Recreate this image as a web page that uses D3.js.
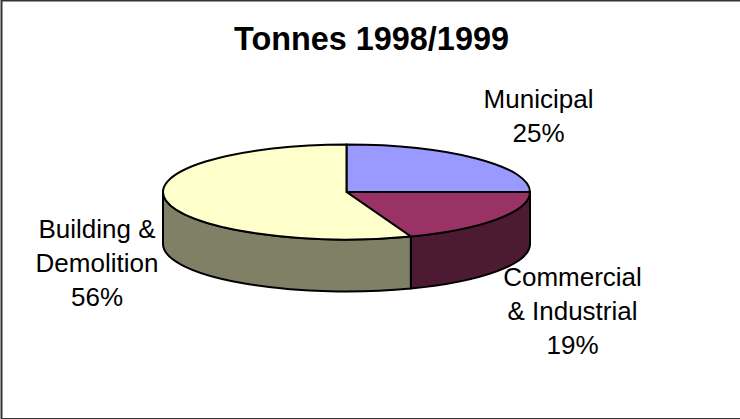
<!DOCTYPE html>
<html><head><meta charset="utf-8">
<script src="https://cdn.jsdelivr.net/npm/d3@7"></script>
<style>html,body{margin:0;padding:0;background:#fff}svg{display:block}text{font-family:"Liberation Sans",Arial,sans-serif;fill:#000}</style>
</head><body><svg id="c" width="740" height="419"></svg>
<script>
const chartTitle = "Tonnes 1998/1999";
const categories = ["Municipal", "Commercial & Industrial", "Building & Demolition"];
const shares = [25, 19.3, 55.7];
const topColors = ["#9999ff", "#993366", "#ffffcc"];
const wallColors = ["#4d4d80", "#4d1a33", "#808066"];
const labelLines = [["Municipal","25%"],["Commercial","& Industrial","19%"],["Building &","Demolition","56%"]];
const labelPos = [[538.5,108],[572.5,286],[97,238]];

const W=740,H=419,cx=346.5,cy=192,rx=183.5,ry=47.5,depth=52,lh=34.2;
const svg=d3.select("#c");
svg.append("rect").attr("x",1.5).attr("y",0.5).attr("width",W+4).attr("height",H-0.5).attr("fill","#fff").attr("stroke","#333").attr("stroke-width",2);
svg.append("text").attr("x",371.5).attr("y",49.5).attr("text-anchor","middle").attr("font-size",32.4).attr("font-weight","bold").text(chartTitle);

const pie=d3.pie().sort(null).value(d=>d)(shares);
const px=d3.scaleLinear().domain([-1,1]).range([cx-rx,cx+rx]);
const py=d3.scaleLinear().domain([-1,1]).range([cy-ry,cy+ry]);
const pt=a=>[px(Math.sin(a)),py(-Math.cos(a))];
const large=(a,b)=>b-a>Math.PI?1:0;
const black={stroke:"#000","stroke-width":2,"stroke-linejoin":"round"};
const style=(s,o)=>{for(const k in o)s.attr(k,o[k]);return s;};

// walls: visible part of each slice's rim (front half, angle between 90deg and 270deg)
pie.forEach((s,i)=>{
  const a=Math.max(s.startAngle,Math.PI/2),b=Math.min(s.endAngle,Math.PI*1.5);
  if(b<=a)return;
  const [x0,y0]=pt(a),[x1,y1]=pt(b);
  const d=`M${x0},${y0}A${rx},${ry} 0 ${large(a,b)} 1 ${x1},${y1}L${x1},${y1+depth}A${rx},${ry} 0 ${large(a,b)} 0 ${x0},${y0+depth}Z`;
  style(svg.append("path").attr("d",d).attr("fill",wallColors[i]),black);
});
// top faces
pie.forEach((s,i)=>{
  const [x0,y0]=pt(s.startAngle),[x1,y1]=pt(s.endAngle);
  const d=`M${cx},${cy}L${x0},${y0}A${rx},${ry} 0 ${large(s.startAngle,s.endAngle)} 1 ${x1},${y1}Z`;
  style(svg.append("path").attr("d",d).attr("fill",topColors[i]),black);
});
// labels
labelLines.forEach((lines,i)=>{
  lines.forEach((t,j)=>{
    svg.append("text").attr("x",labelPos[i][0]).attr("y",labelPos[i][1]+j*lh).attr("text-anchor","middle").attr("font-size",26).text(t);
  });
});
</script></body></html>
